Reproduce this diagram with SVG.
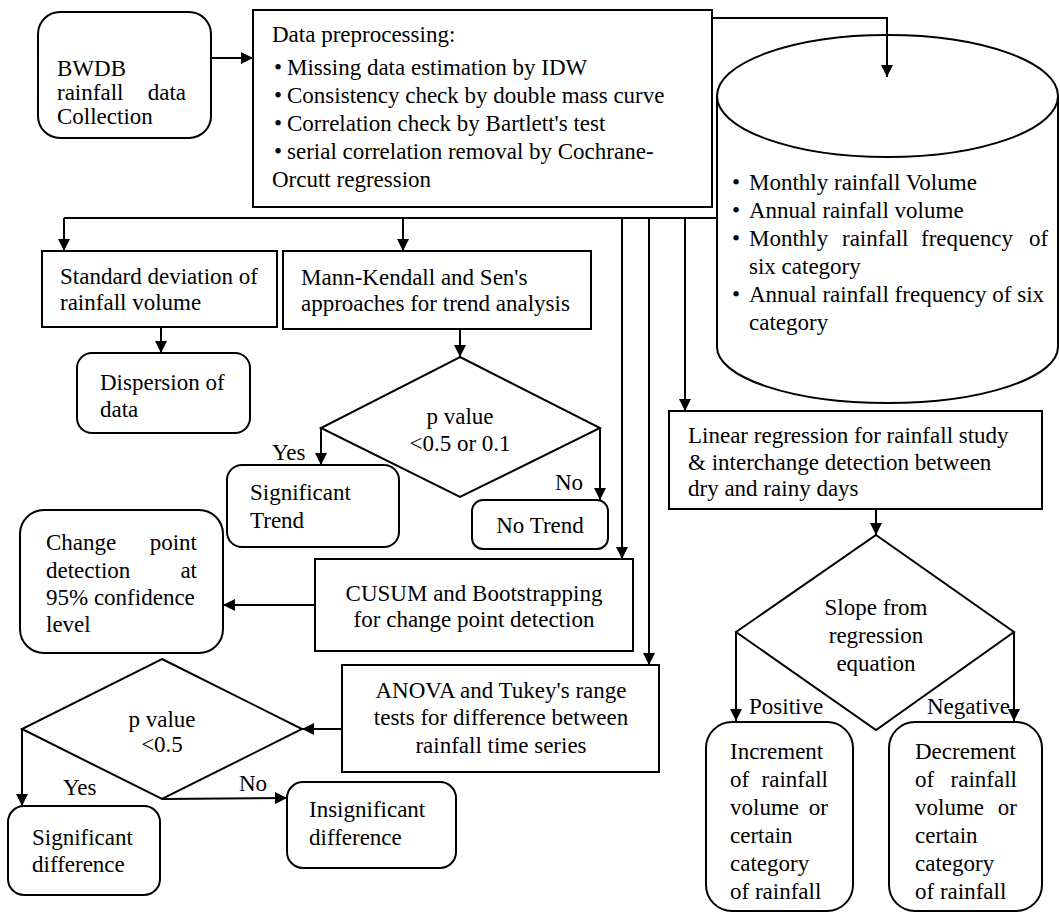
<svg xmlns="http://www.w3.org/2000/svg" width="1060" height="915" viewBox="0 0 1060 915">
<style>
.t{font-family:"Liberation Serif","Times New Roman",serif;font-size:23px;fill:#000}
.c{text-anchor:middle}
.e{text-anchor:end}
.b{fill:#fff;stroke:#000;stroke-width:2}
.l{fill:none;stroke:#000;stroke-width:2}
.a{fill:none;stroke:#000;stroke-width:2;marker-end:url(#ah)}
</style>
<defs>
<marker id="ah" markerUnits="userSpaceOnUse" markerWidth="12" markerHeight="12" refX="12" refY="6" orient="auto">
<path d="M0,0 L12,6 L0,12 z" fill="#000"/>
</marker>
</defs>
<rect width="1060" height="915" fill="#fff"/>

<g id="bwdb">
<rect class="b" x="38" y="12" width="173" height="126" rx="22"/>
<text class="t" x="57" y="76">BWDB</text>
<text class="t" x="57" y="100">rainfall</text>
<text class="t e" x="186" y="100">data</text>
<text class="t" x="57" y="124">Collection</text>
</g>

<g id="preprocessing">
<rect class="b" x="253" y="10" width="459" height="197"/>
<text class="t" x="272" y="42">Data preprocessing:</text>
<text class="t" x="274" y="75">•<tspan x="287">Missing data estimation by IDW</tspan></text>
<text class="t" x="274" y="103">•<tspan x="287">Consistency check by double mass curve</tspan></text>
<text class="t" x="274" y="131">•<tspan x="287">Correlation check by Bartlett's test</tspan></text>
<text class="t" x="274" y="159">•<tspan x="287">serial correlation removal by Cochrane-</tspan></text>
<text class="t" x="272" y="187">Orcutt regression</text>
</g>

<g id="database">
<path class="b" d="M717,96 V347 A170.5,56 0 0 0 1058,347 V96"/>
<ellipse class="b" cx="887.5" cy="96" rx="170.5" ry="61"/>
<text class="t" x="732" y="190">•<tspan x="749">Monthly rainfall Volume</tspan></text>
<text class="t" x="732" y="218">•<tspan x="749">Annual rainfall volume</tspan></text>
<text class="t" x="732" y="246">•<tspan x="749">Monthly</tspan><tspan x="842">rainfall</tspan><tspan x="921">frequency</tspan><tspan x="1029">of</tspan></text>
<text class="t" x="749" y="274">six category</text>
<text class="t" x="732" y="302">•<tspan x="749">Annual rainfall frequency of six</tspan></text>
<text class="t" x="749" y="330">category</text>
</g>

<g id="stddev">
<rect class="b" x="42" y="251" width="235" height="76"/>
<text class="t" x="60" y="284">Standard deviation of</text>
<text class="t" x="60" y="310">rainfall volume</text>
</g>

<g id="dispersion">
<rect class="b" x="77" y="353" width="173" height="80" rx="15"/>
<text class="t" x="100" y="390">Dispersion of</text>
<text class="t" x="100" y="417">data</text>
</g>

<g id="mannkendall">
<rect class="b" x="283" y="251" width="308" height="78"/>
<text class="t" x="301" y="285">Mann-Kendall and Sen's</text>
<text class="t" x="301" y="311">approaches for trend analysis</text>
</g>

<g id="decision1">
<path class="b" d="M460,357 L600,428 L460,497 L321,428 Z"/>
<text class="t c" x="460" y="424">p value</text>
<text class="t c" x="460" y="451">&lt;0.5 or 0.1</text>
</g>

<g id="sigtrend">
<rect class="b" x="227" y="465" width="172" height="82" rx="15"/>
<text class="t" x="250" y="500">Significant</text>
<text class="t" x="250" y="528">Trend</text>
</g>

<g id="notrend">
<rect class="b" x="472" y="500" width="136" height="49" rx="11"/>
<text class="t c" x="540" y="533">No Trend</text>
</g>

<g id="changepoint">
<rect class="b" x="20" y="510" width="203" height="143" rx="24"/>
<text class="t" x="46" y="550">Change</text><text class="t e" x="197" y="550">point</text>
<text class="t" x="46" y="578">detection</text><text class="t e" x="197" y="578">at</text>
<text class="t" x="46" y="605">95% confidence</text>
<text class="t" x="46" y="632">level</text>
</g>

<g id="cusum">
<rect class="b" x="315" y="559" width="318" height="92"/>
<text class="t c" x="474" y="601">CUSUM and Bootstrapping</text>
<text class="t c" x="474" y="627">for change point detection</text>
</g>

<g id="anova">
<rect class="b" x="342" y="665" width="317" height="107"/>
<text class="t c" x="501" y="698">ANOVA and Tukey's range</text>
<text class="t c" x="501" y="725">tests for difference between</text>
<text class="t c" x="501" y="753">rainfall time series</text>
</g>

<g id="decision2">
<path class="b" d="M162,659 L302,729 L162,799 L22,729 Z"/>
<text class="t c" x="162" y="727">p value</text>
<text class="t c" x="162" y="752">&lt;0.5</text>
</g>

<g id="sigdiff">
<rect class="b" x="8" y="806" width="152" height="89" rx="16"/>
<text class="t" x="32" y="845">Significant</text>
<text class="t" x="32" y="872">difference</text>
</g>

<g id="insigdiff">
<rect class="b" x="287" y="782" width="169" height="86" rx="16"/>
<text class="t" x="309" y="817">Insignificant</text>
<text class="t" x="309" y="845">difference</text>
</g>

<g id="linreg">
<rect class="b" x="669" y="411" width="373" height="98"/>
<text class="t" x="688" y="443">Linear regression for rainfall study</text>
<text class="t" x="688" y="470">&amp; interchange detection between</text>
<text class="t" x="688" y="496">dry and rainy days</text>
</g>

<g id="decision3">
<path class="b" d="M876,535 L1014,632 L876,730 L736,632 Z"/>
<text class="t c" x="876" y="615">Slope from</text>
<text class="t c" x="876" y="643">regression</text>
<text class="t c" x="876" y="671">equation</text>
</g>

<g id="increment">
<rect class="b" x="706" y="722" width="147" height="189" rx="26"/>
<text class="t" x="730" y="759">Increment</text>
<text class="t" x="730" y="787">of</text><text class="t e" x="828" y="787">rainfall</text>
<text class="t" x="730" y="815">volume</text><text class="t e" x="828" y="815">or</text>
<text class="t" x="730" y="843">certain</text>
<text class="t" x="730" y="871">category</text>
<text class="t" x="730" y="899">of rainfall</text>
</g>

<g id="decrement">
<rect class="b" x="889" y="722" width="153" height="189" rx="26"/>
<text class="t" x="915" y="759">Decrement</text>
<text class="t" x="915" y="787">of</text><text class="t e" x="1017" y="787">rainfall</text>
<text class="t" x="915" y="815">volume</text><text class="t e" x="1017" y="815">or</text>
<text class="t" x="915" y="843">certain</text>
<text class="t" x="915" y="871">category</text>
<text class="t" x="915" y="899">of rainfall</text>
</g>

<g id="connectors">
<path class="a" d="M211,58 H253"/>
<path class="a" d="M712,18 H887 V77"/>
<path class="l" d="M64,218 H717"/>
<path class="a" d="M64,218 V251"/>
<path class="a" d="M403,218 V251"/>
<path class="a" d="M622,218 V559"/>
<path class="a" d="M649,218 V665"/>
<path class="a" d="M685,218 V411"/>
<path class="a" d="M161,327 V353"/>
<path class="a" d="M460,329 V357"/>
<path class="a" d="M321,428 V465"/>
<path class="a" d="M600,428 V500"/>
<path class="a" d="M315,605 H223"/>
<path class="a" d="M342,729 H302"/>
<path class="a" d="M22,729 V806"/>
<path class="a" d="M162,799 L287,798"/>
<path class="a" d="M876,509 V535"/>
<path class="a" d="M736,632 V721"/>
<path class="a" d="M1014,632 V721"/>
<text class="t" x="272" y="460">Yes</text>
<text class="t" x="555" y="490">No</text>
<text class="t" x="63" y="795">Yes</text>
<text class="t" x="239" y="791">No</text>
<text class="t" x="749" y="714">Positive</text>
<text class="t" x="927" y="714">Negative</text>
</g>
</svg>
